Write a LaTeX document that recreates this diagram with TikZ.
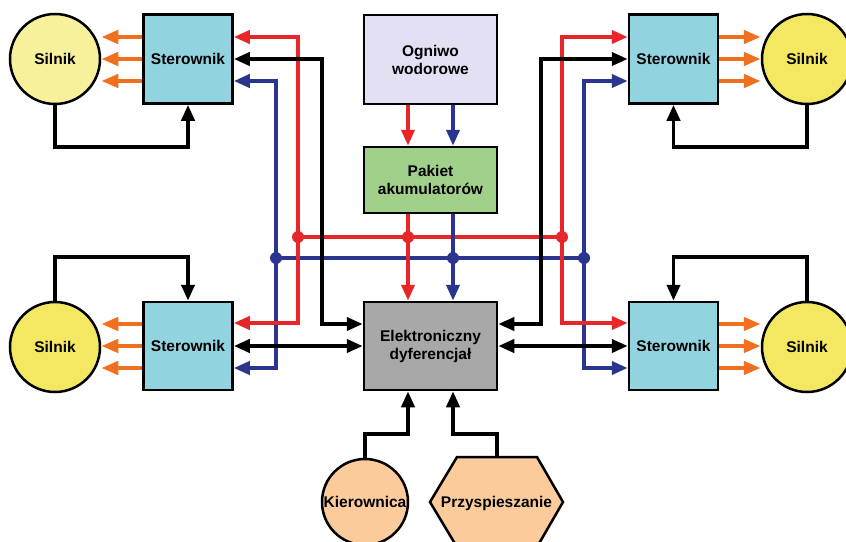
\documentclass[tikz,border=0pt]{standalone}
\usepackage{fontspec}
\setmainfont{Liberation Sans}
\usetikzlibrary{arrows.meta}
\definecolor{ctrlblue}{HTML}{92D3E0}
\definecolor{motorpale}{HTML}{F8F19C}
\definecolor{motoryel}{HTML}{F4E863}
\definecolor{cellvio}{HTML}{E3E0F3}
\definecolor{battgreen}{HTML}{A0D08A}
\definecolor{diffgray}{HTML}{A8A8A8}
\definecolor{peach}{HTML}{FBCB9B}
\definecolor{wred}{HTML}{E8262A}
\definecolor{wblue}{HTML}{2A3590}
\definecolor{worange}{HTML}{F07020}
\begin{document}
\begin{tikzpicture}[x=1pt,y=-1pt,
  lbl/.style={font=\bfseries\fontsize{15.5}{18}\selectfont, align=center},
  blk/.style={lbl, draw, line width=2.5pt, inner sep=0pt},
  ctrl/.style={blk, fill=ctrlblue, minimum width=89pt, minimum height=89pt},
  motor/.style={blk, circle, minimum size=90pt},
  tip/.style={-{Triangle[length=16pt,width=13pt]}},
  dtip/.style={{Triangle[length=16pt,width=13pt]}-{Triangle[length=16pt,width=13pt]}},
  bk/.style={line width=3.8pt, black},
  rd/.style={line width=3.8pt, wred},
  bl/.style={line width=3.8pt, wblue},
  og/.style={line width=4.2pt, worange, -{Triangle[length=17pt,width=13pt]}},
  rdot/.style={circle, fill=wred, inner sep=0pt, minimum size=12pt},
  bdot/.style={circle, fill=wblue, inner sep=0pt, minimum size=12pt}]
\useasboundingbox (0,0) rectangle (846,541);
\fill[white] (0,0) rectangle (846,541);

% units
\node[ctrl] (stTL) at (188,59) {Sterownik};
\node[ctrl] (stTR) at (673.5,59) {Sterownik};
\node[ctrl, minimum height=88pt] (stBL) at (188,346) {Sterownik};
\node[ctrl, minimum height=88pt] (stBR) at (673.5,346) {Sterownik};
\node[motor, fill=motorpale] (silTL) at (55,59) {Silnik};
\node[motor, fill=motoryel] (silTR) at (807,59) {Silnik};
\node[motor, fill=motoryel] (silBL) at (55,347) {Silnik};
\node[motor, fill=motoryel] (silBR) at (807,347) {Silnik};
\node[blk, fill=cellvio, minimum width=133pt, minimum height=89pt] (cell) at (430.5,59.5) {Ogniwo\\wodorowe};
\node[blk, fill=battgreen, minimum width=133pt, minimum height=66pt] (pak) at (430.5,180) {Pakiet\\akumulatorów};
\node[blk, fill=diffgray, minimum width=133pt, minimum height=88pt] (elek) at (430.5,346) {Elektroniczny\\dyferencjał};
\node[blk, circle, fill=peach, minimum size=86pt] (kier) at (365,502) {Kierownica};
\filldraw[line width=2.5pt, fill=peach] (430,502) -- (457,457) -- (537,457) -- (563,502) -- (537,547) -- (457,547) -- cycle;
\node[lbl] (prz) at (496.5,503) {Przyspieszanie};
\coordinate (przTop) at (497,457);

% bus junctions
\coordinate (rL) at (298,237);
\coordinate (rM) at (408,237);
\coordinate (rR) at (562,237);
\coordinate (bL) at (276,258);
\coordinate (bM) at (453,258);
\coordinate (bR) at (584,258);
\coordinate (kL) at (322,324);
\coordinate (kR) at (541,324);

% power buses
\draw[rd] (rL) -- (rR);
\draw[bl] (bL) -- (bR);

% fuel cell -> battery -> differential
\draw[rd, tip] ([xshift=-22.5pt]cell.south) -- ([xshift=-22.5pt]pak.north);
\draw[bl, tip] ([xshift=22.5pt]cell.south) -- ([xshift=22.5pt]pak.north);
\draw[rd, tip] ([xshift=-22.5pt]pak.south) -- ([xshift=-22.5pt]elek.north);
\draw[bl, tip] ([xshift=22.5pt]pak.south) -- ([xshift=22.5pt]elek.north);

% power feeds to the controllers
\draw[bl, tip] (bL) |- ([yshift=-22pt]stTL.east);
\draw[bl, tip] (bL) |- ([yshift=-22pt]stBL.east);
\draw[bl, tip] (bR) |- ([yshift=-22pt]stTR.west);
\draw[bl, tip] (bR) |- ([yshift=-22pt]stBR.west);
\draw[rd, tip] (rL) |- ([yshift=22pt]stTL.east);
\draw[rd, tip] (rL) |- ([yshift=23pt]stBL.east);
\draw[rd, tip] (rR) |- ([yshift=22pt]stTR.west);
\draw[rd, tip] (rR) |- ([yshift=23pt]stBR.west);

% control links
\draw[bk, dtip] (stTL.east) -| (kL) -- (kL -| elek.west);
\draw[bk, dtip] (stTR.west) -| (kR) -- (kR -| elek.east);
\draw[bk, dtip] (stBL.east) -- (elek.west);
\draw[bk, dtip] (stBR.west) -- (elek.east);

% junction dots
\node[rdot] at (rL) {};
\node[rdot] at (rM) {};
\node[rdot] at (rR) {};
\node[bdot] at (bL) {};
\node[bdot] at (bM) {};
\node[bdot] at (bR) {};

% motor drive outputs
\foreach \s in {22,0,-22} {
  \draw[og] ([yshift=\s pt]stTL.west) -- ([yshift=\s pt]stTL.west -| silTL.east);
  \draw[og] ([yshift=\s pt]stTR.east) -- ([yshift=\s pt]stTR.east -| silTR.west);
  \draw[og] ([yshift=\s pt]stBL.west) -- ([yshift=\s pt]stBL.west -| silBL.east);
  \draw[og] ([yshift=\s pt]stBR.east) -- ([yshift=\s pt]stBR.east -| silBR.west);
}

% motor feedback loops
\draw[bk, tip] (silTL.south) |- ([yshift=-42pt]stTL.south) -- (stTL.south);
\draw[bk, tip] (silTR.south) |- ([yshift=-42pt]stTR.south) -- (stTR.south);
\draw[bk, tip] (silBL.north) |- ([yshift=44pt]stBL.north) -- (stBL.north);
\draw[bk, tip] (silBR.north) |- ([yshift=44pt]stBR.north) -- (stBR.north);

% driver inputs
\draw[bk, tip] (kier.north) |- ([xshift=-22.5pt,yshift=-43pt]elek.south) -- ([xshift=-22.5pt]elek.south);
\draw[bk, tip] (przTop) |- ([xshift=22.5pt,yshift=-43pt]elek.south) -- ([xshift=22.5pt]elek.south);
\end{tikzpicture}
\end{document}
